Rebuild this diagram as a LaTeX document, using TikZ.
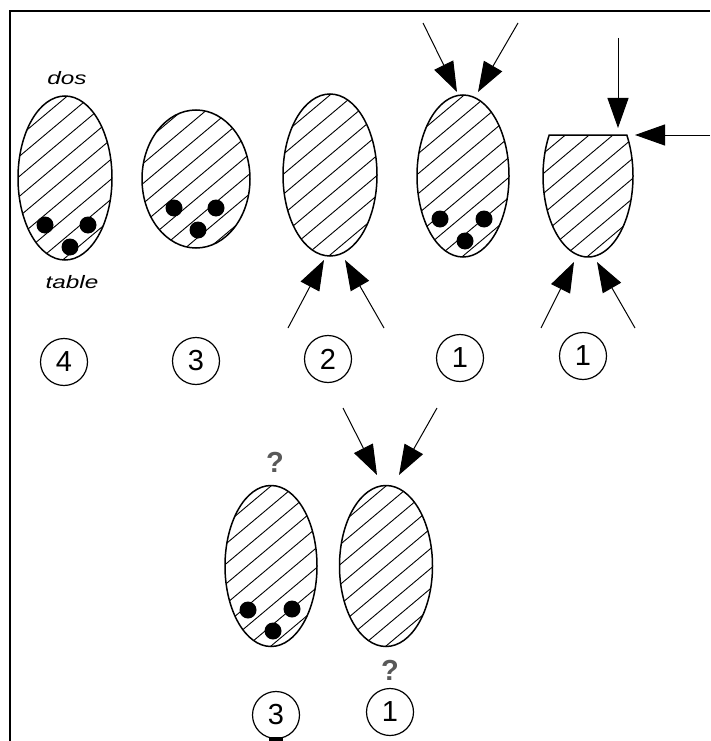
\documentclass[tikz,border=0pt]{standalone}
\usepackage{fontspec}
\setmainfont{Liberation Sans}
\usetikzlibrary{arrows.meta,shapes.geometric}
\newcommand\myhatch{%
  \foreach \c in {-340,-320,...,340}
    \draw[line width=0.9pt] ([shift={(-200pt,\c pt-168pt)}]path picture bounding box.center)
      -- ([shift={(200pt,\c pt+168pt)}]path picture bounding box.center);}
\tikzset{
  blob/.style={ellipse, draw, line width=1.5pt, inner sep=0pt, outer sep=0pt, path picture={\myhatch}},
  dot/.style={circle, fill=black, inner sep=0pt, minimum size=17pt},
  num/.style={circle, draw, line width=1.2pt, inner sep=0pt, minimum size=47pt, font=\fontsize{29}{31}\selectfont},
  qm/.style={font=\fontsize{29}{31}\selectfont\bfseries, text=black!65, inner sep=0pt},
  lbl/.style={font=\fontsize{18}{20}\selectfont\itshape, inner sep=0pt},
  arr/.style={line width=1pt, -{Triangle[length=30pt,width=21pt]}},
}
\begin{document}
\begin{tikzpicture}[x=1pt,y=-1pt]
\useasboundingbox (0,0) rectangle (710,741);
% frame
\draw[line width=2.5pt] (10,741) -- (10,11) -- (710,11);
% top row shapes
\node[blob, minimum width=94pt, minimum height=164pt] (e1) at (65,178) {};
\node[blob, minimum width=108pt, minimum height=138pt] (e2) at (196,179) {};
\node[blob, minimum width=94pt, minimum height=162pt] (e3) at (330,175) {};
\node[blob, minimum width=92pt, minimum height=162pt] (e4) at (463,176) {};
\coordinate (e5) at (588,176);
\begin{scope}
  \clip plot[domain=-30.4:210.4,samples=80] ({588+45*cos(\x)},{176+81*sin(\x)}) -- cycle;
  \foreach \c in {-340,-320,...,340}
    \draw[line width=0.9pt] (388,176+\c+168) -- (788,176+\c-168);
\end{scope}
\draw[line width=1.5pt] plot[domain=-30.4:210.4,samples=80] ({588+45*cos(\x)},{176+81*sin(\x)}) -- cycle;
% bottom row shapes
\node[blob, minimum width=92pt, minimum height=161pt] (e6) at (271,566) {};
\node[blob, minimum width=93pt, minimum height=161pt] (e7) at (386,566) {};
% dots
\node[dot] (d11) at (45,225) {};
\node[dot] (d12) at (88,225) {};
\node[dot] (d13) at (70,247) {};
\node[dot] (d21) at (174,208) {};
\node[dot] (d22) at (216,208) {};
\node[dot] (d23) at (198,230) {};
\node[dot] (d41) at (440,219) {};
\node[dot] (d42) at (484,219) {};
\node[dot] (d43) at (465,241) {};
\node[dot] (d61) at (248,610) {};
\node[dot] (d62) at (292,609) {};
\node[dot] (d63) at (273,631) {};
% labels
\node[lbl] (dos) at (67,78) {\scalebox{1.35}[1]{dos}};
\node[lbl] (table) at (72,282) {\scalebox{1.35}[1]{table}};
\node[qm] (q6) at (275,462) {?};
\node[qm] (q7) at (390,670) {?};
% circled numbers
\node[num] (c1) at (64,362) {4};
\node[num] (c2) at (196,361) {3};
\node[num] (c3) at (328,359) {2};
\node[num] (c4) at (460,358) {1};
\node[num] (c5) at (583,356) {1};
\node[num] (c6) at (276,715) {3};
\node[num] (c7) at (390,712) {1};
\fill (269,737) rectangle (283,741);
% arrow coordinates
\coordinate (a3ls) at (288,328); \coordinate (a3le) at (324,260);
\coordinate (a3rs) at (384,328); \coordinate (a3re) at (345,260);
\coordinate (a4ls) at (423,23);  \coordinate (a4le) at (457,92);
\coordinate (a4rs) at (518,23);  \coordinate (a4re) at (478,92);
\coordinate (a5vs) at (618,38);  \coordinate (a5ve) at (618,128);
\coordinate (a5hs) at (710,135); \coordinate (a5he) at (635,135);
\coordinate (a5ls) at (541,328); \coordinate (a5le) at (574,262);
\coordinate (a5rs) at (635,328); \coordinate (a5re) at (597,262);
\coordinate (a7ls) at (343,408); \coordinate (a7le) at (377,475);
\coordinate (a7rs) at (437,408); \coordinate (a7re) at (399,475);
\draw[arr] (a3ls) -- (a3le);
\draw[arr] (a3rs) -- (a3re);
\draw[arr] (a4ls) -- (a4le);
\draw[arr] (a4rs) -- (a4re);
\draw[arr] (a5vs) -- (a5ve);
\draw[arr] (a5hs) -- (a5he);
\draw[arr] (a5ls) -- (a5le);
\draw[arr] (a5rs) -- (a5re);
\draw[arr] (a7ls) -- (a7le);
\draw[arr] (a7rs) -- (a7re);
\end{tikzpicture}
\end{document}
